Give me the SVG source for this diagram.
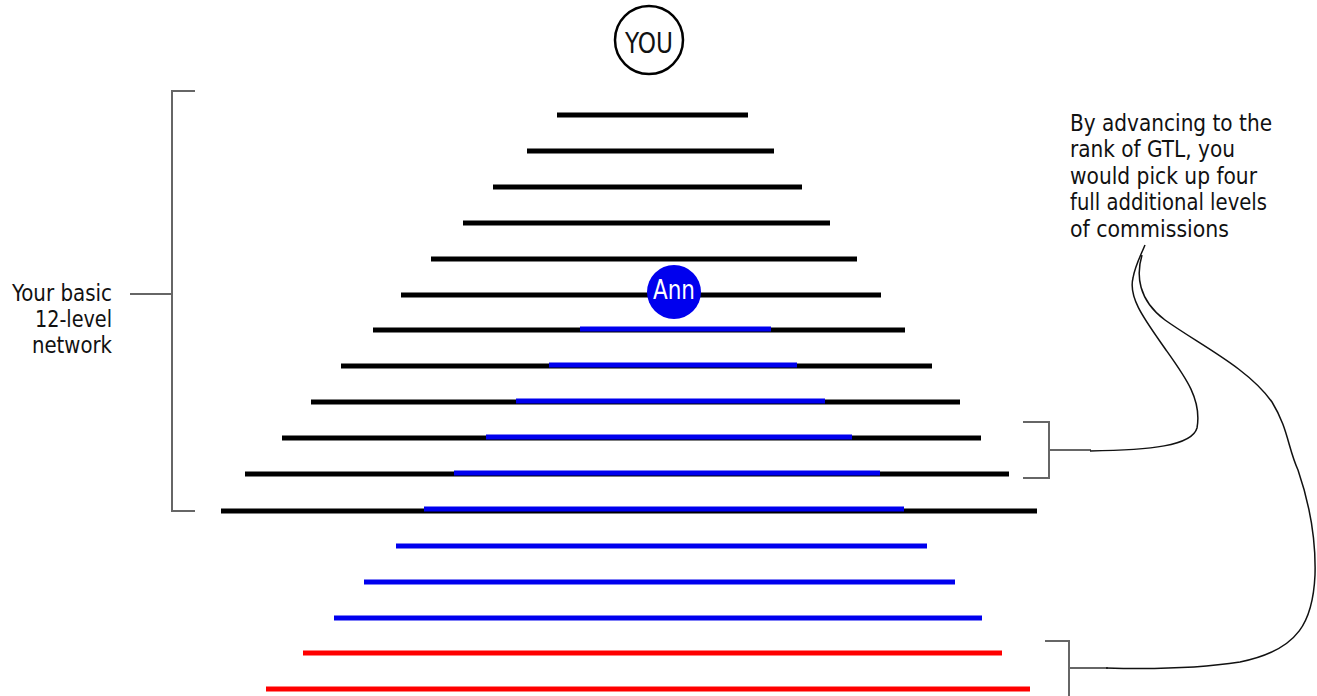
<svg xmlns="http://www.w3.org/2000/svg" width="1317" height="696" viewBox="0 0 1317 696">
<style>
.t{font-family:"DejaVu Sans Condensed","Liberation Sans Narrow","Liberation Sans",sans-serif;fill:#111}
.s{font-size:23px}
.k{stroke:#000;stroke-width:5}
.b{stroke:#0000ee;stroke-width:5}
.r{stroke:#ff0000;stroke-width:5}
.g{stroke:#666;stroke-width:2;fill:none}
.c{stroke:#111;stroke-width:1.5;fill:none}
</style>
<rect width="1317" height="696" fill="#fff"/>
<g id="you">
<circle cx="649" cy="40" r="34" fill="#fff" stroke="#000" stroke-width="2.5"/>
<text class="t" x="649" y="53" text-anchor="middle" font-size="29" textLength="48" lengthAdjust="spacingAndGlyphs">YOU</text>
</g>
<g id="levels">
<line class="k" x1="557" y1="115" x2="748" y2="115"/>
<line class="k" x1="527" y1="151" x2="774" y2="151"/>
<line class="k" x1="493" y1="187" x2="802" y2="187"/>
<line class="k" x1="463" y1="223" x2="830" y2="223"/>
<line class="k" x1="431" y1="259" x2="857" y2="259"/>
<line class="k" x1="401" y1="295" x2="881" y2="295"/>
<line class="k" x1="373" y1="330" x2="905" y2="330"/>
<line class="k" x1="341" y1="366" x2="932" y2="366"/>
<line class="k" x1="311" y1="402" x2="960" y2="402"/>
<line class="k" x1="282" y1="438" x2="981" y2="438"/>
<line class="k" x1="245" y1="474" x2="1009" y2="474"/>
<line class="k" x1="221" y1="511" x2="1037" y2="511"/>
<line class="b" x1="580" y1="329" x2="771" y2="329"/>
<line class="b" x1="549" y1="365" x2="797" y2="365"/>
<line class="b" x1="516" y1="401" x2="825" y2="401"/>
<line class="b" x1="486" y1="437" x2="852" y2="437"/>
<line class="b" x1="454" y1="473" x2="880" y2="473"/>
<line class="b" x1="424" y1="509" x2="904" y2="509"/>
<line class="b" x1="396" y1="546" x2="927" y2="546"/>
<line class="b" x1="364" y1="582" x2="955" y2="582"/>
<line class="b" x1="334" y1="618" x2="982" y2="618"/>
<line class="r" x1="303" y1="653" x2="1002" y2="653"/>
<line class="r" x1="266" y1="689" x2="1030" y2="689"/>
</g>
<g id="ann">
<circle cx="674" cy="292" r="27" fill="#0000ee"/>
<text class="t" x="674" y="299" text-anchor="middle" font-size="27" style="fill:#fff" textLength="42" lengthAdjust="spacingAndGlyphs">Ann</text>
</g>
<g id="basic-label">
<text class="t s" x="112" y="301" text-anchor="end" textLength="100" lengthAdjust="spacingAndGlyphs">Your basic</text>
<text class="t s" x="112" y="327" text-anchor="end" textLength="77" lengthAdjust="spacingAndGlyphs">12-level</text>
<text class="t s" x="112" y="353" text-anchor="end" textLength="80" lengthAdjust="spacingAndGlyphs">network</text>
</g>
<g id="gtl-label">
<text class="t s" x="1070" y="131" textLength="202" lengthAdjust="spacingAndGlyphs">By advancing to the</text>
<text class="t s" x="1070" y="157" textLength="165" lengthAdjust="spacingAndGlyphs">rank of GTL, you</text>
<text class="t s" x="1070" y="184" textLength="187" lengthAdjust="spacingAndGlyphs">would pick up four</text>
<text class="t s" x="1070" y="210" textLength="197" lengthAdjust="spacingAndGlyphs">full additional levels</text>
<text class="t s" x="1070" y="237" textLength="159" lengthAdjust="spacingAndGlyphs">of commissions</text>
</g>
<g id="connectors">
<path class="g" d="M195,91 H172 V511 H195 M130,294 H172"/>
<path class="g" d="M1023,422 H1049 V478 H1023 M1049,450 H1091"/>
<path class="g" d="M1045,641 H1069 V696 M1069,668 H1108"/>
<path class="c" d="M1090,451 C1150,450 1192,446 1197,428 C1202,400 1186,378 1166,350 C1145,320 1128,298 1133,278 C1135,266 1140,257 1145,245"/>
<path class="c" d="M1142,255 C1136,275 1138,300 1165,320 C1200,345 1248,368 1272,402 C1288,428 1288,448 1298,470 C1310,505 1316,540 1315,575 C1313,620 1300,650 1240,662 C1195,669 1140,669 1106,668"/>
</g>
</svg>
